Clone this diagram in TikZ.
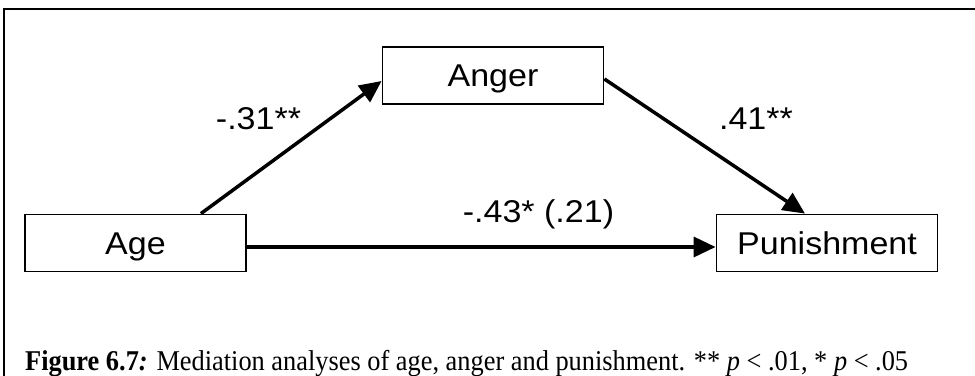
\documentclass[tikz,border=0pt]{standalone}
\usepackage{fontspec}
\usepackage{graphicx}
\setmainfont{Liberation Serif}
\newfontfamily\arialx[FakeStretch=1.08]{Liberation Sans}
\newfontfamily\capfont[FakeStretch=0.92]{Liberation Serif}
\usetikzlibrary{arrows.meta}
\begin{document}
\begin{tikzpicture}[x=1pt,y=-1pt,
  varbox/.style={draw, line width=1.8pt, minimum width=221pt, minimum height=57pt,
    inner sep=0pt, text height=25pt, text depth=3pt,
    font=\arialx\fontsize{31.5}{36}\selectfont},
  coef/.style={anchor=base, inner sep=0pt, font=\arialx\fontsize{31.5}{36}\selectfont},
  conn/.style={line width=3.5pt, -{Triangle[length=22pt,width=20pt]}},
  frameline/.style={line width=2pt}]
\useasboundingbox (0,0) rectangle (975,375);
\draw[frameline] (4,380) -- (4,9) -- (980,9);
\node[varbox] (age) at (135.5,243) {Age};
\node[varbox] (anger) at (493,75.5) {Anger};
\node[varbox] (pun) at (827,243) {Punishment};
\draw[conn] ([xshift=-46pt]age.north east) -- ([yshift=-5.5pt]anger.west);
\draw[conn] ([yshift=-3.5pt]anger.east) -- ([xshift=-22pt]pun.north);
\draw[conn] ([yshift=-4pt]age.east) -- ([yshift=-4pt]pun.west);
\node[coef] (la) at (258.5,129) {-.31**};
\node[coef] (lb) at (756,129) {.41**};
\node[coef] (lc) at (538.5,222) {-.43* (.21)};
\node[anchor=base west, inner sep=0pt] (cap) at (25,370)
  {\resizebox{883pt}{!}{\capfont\fontsize{28.7}{32}\selectfont\textbf{Figure 6.7\textit{:}} Mediation analyses of age, anger and punishment. ** \textit{p} < .01, * \textit{p} < .05}};
\end{tikzpicture}
\end{document}
